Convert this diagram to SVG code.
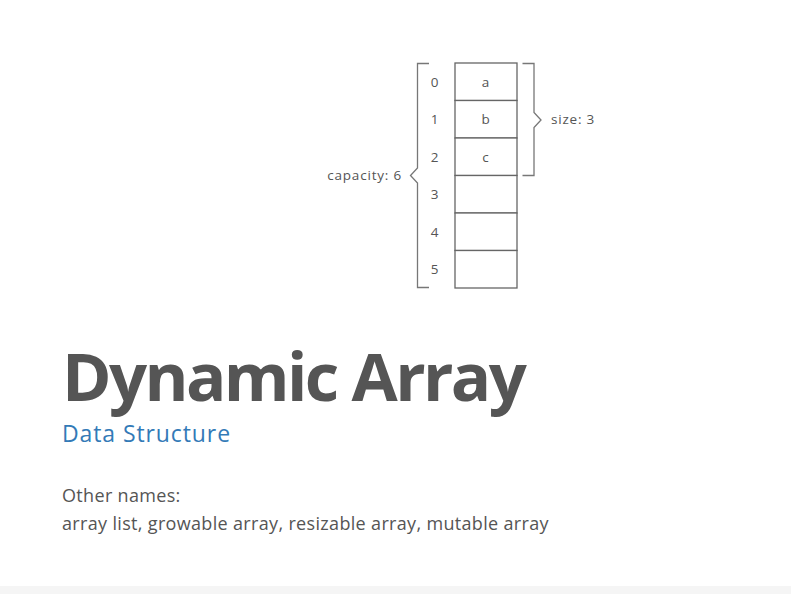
<svg xmlns="http://www.w3.org/2000/svg" width="791" height="594" viewBox="0 0 791 594">
  <style>
    .line { fill: none; stroke: #777; stroke-width: 1.3; }
    .cell { fill: #fff; stroke: #666; stroke-width: 1.3; }
    .lbl { font-family: "Open Sans", "Liberation Sans", sans-serif; font-size: 13.5px; letter-spacing: 0.8px; fill: #555; }
    .mid { text-anchor: middle; }
    .title { font-family: "Open Sans", "Liberation Sans", sans-serif; font-weight: bold; font-size: 67px; letter-spacing: -2.6px; fill: #555; }
    .sub { font-family: "Open Sans", "Liberation Sans", sans-serif; font-size: 23px; letter-spacing: 0.9px; fill: #337ab7; }
    .body { font-family: "Open Sans", "Liberation Sans", sans-serif; font-size: 18px; letter-spacing: 0.33px; fill: #555; }
  </style>
  <rect width="791" height="594" fill="#fff"/>
  <rect x="0" y="586" width="791" height="8" fill="#f5f5f5"/>

  <!-- array cells -->
  <g id="cells">
    <g id="cell0"><rect class="cell" x="455" y="63" width="62" height="37.5"/><text class="lbl mid" x="486" y="86.5">a</text></g>
    <g id="cell1"><rect class="cell" x="455" y="100.5" width="62" height="37.5"/><text class="lbl mid" x="486" y="124">b</text></g>
    <g id="cell2"><rect class="cell" x="455" y="138" width="62" height="37.5"/><text class="lbl mid" x="486" y="161.5">c</text></g>
    <g id="cell3"><rect class="cell" x="455" y="175.5" width="62" height="37.5"/></g>
    <g id="cell4"><rect class="cell" x="455" y="213" width="62" height="37.5"/></g>
    <g id="cell5"><rect class="cell" x="455" y="250.5" width="62" height="37.5"/></g>
  </g>

  <!-- indices -->
  <g id="indices">
    <text class="lbl mid" x="435" y="86.5">0</text>
    <text class="lbl mid" x="435" y="124">1</text>
    <text class="lbl mid" x="435" y="161.5">2</text>
    <text class="lbl mid" x="435" y="199">3</text>
    <text class="lbl mid" x="435" y="236.5">4</text>
    <text class="lbl mid" x="435" y="274">5</text>
  </g>

  <!-- braces -->
  <g id="braces">
    <path class="line" d="M429,63.5 H417.5 V168 L410.5,175.5 L417.5,183 V287.5 H429"/>
    <path class="line" d="M522.5,63.5 H534 V112.5 L541,120 L534,127.5 V175.5 H522.5"/>
  </g>
  <g id="capacity"><text class="lbl" x="402" y="180" text-anchor="end">capacity: 6</text></g>
  <g id="size"><text class="lbl" x="551" y="124">size: 3</text></g>

  <!-- heading and description -->
  <text class="title" x="62" y="401">Dynamic Array</text>
  <text class="sub" x="62" y="442">Data Structure</text>
  <text class="body" x="62" y="502">Other names:</text>
  <text class="body" x="62" y="530">array list, growable array, resizable array, mutable array</text>
</svg>
